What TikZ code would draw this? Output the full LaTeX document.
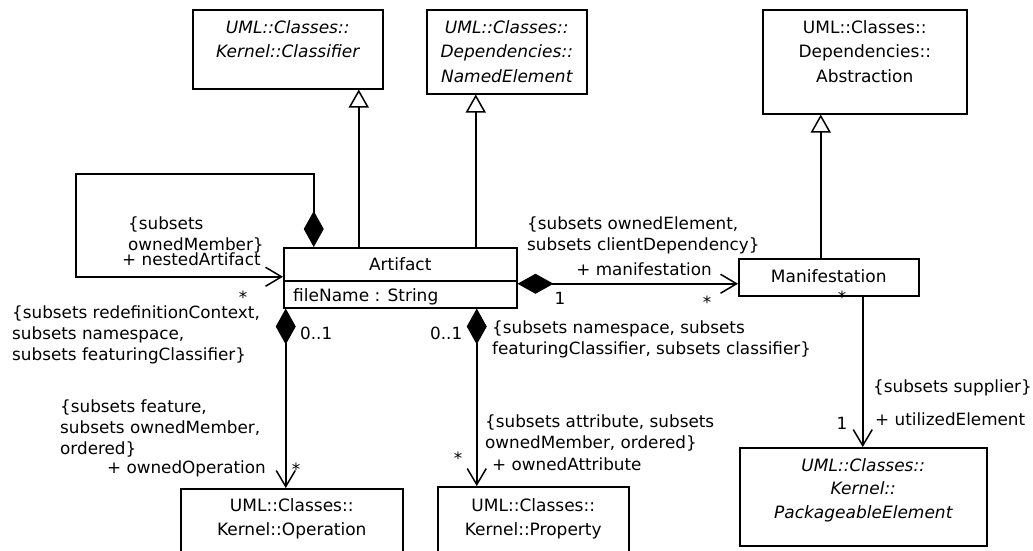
\documentclass[tikz,border=0pt]{standalone}
\usepackage{fontspec}
\setmainfont{DejaVu Sans}
\usetikzlibrary{arrows.meta}
\begin{document}
\begin{tikzpicture}[x=1pt,y=-1pt,
  lw/.style={line width=1.5pt},
  cbox/.style={draw, line width=1.5pt, anchor=north west, inner sep=0pt},
  cname/.style={anchor=base, inner sep=0pt, align=center, font=\fontsize{17}{24.5}\selectfont},
  cnamei/.style={anchor=base, inner sep=0pt, align=center, font=\fontsize{17}{24.5}\selectfont\itshape},
  lab/.style={anchor=base west, inner sep=0pt, align=left, font=\fontsize{16.8}{21}\selectfont},
  labr/.style={anchor=base east, inner sep=0pt, align=right, font=\fontsize{16.8}{21}\selectfont},
  mult/.style={anchor=base, inner sep=0pt, font=\fontsize{16.8}{21}\selectfont},
  gen/.style={line width=1.5pt, -{Triangle[open, length=18pt, width=20pt]}},
  comp/.style={line width=1.5pt, {Diamond[length=36pt, width=20pt]}-{Straight Barb[length=16pt, width=19pt]}},
  nav/.style={line width=1.5pt, -{Straight Barb[length=16pt, width=19pt]}},
]
\useasboundingbox (0,0) rectangle (1033,550);
\clip (0,0) rectangle (1033,550);

% class boxes (multi-line names are placed by the baseline of their last line)
\node[cbox, minimum width=190pt, minimum height=79pt] (cls) at (192,9) {};
\node[cnamei] (cls-t) at ([yshift=-48.5pt]cls.north) {UML::Classes::\\Kernel::Classifier};

\node[cbox, minimum width=160pt, minimum height=84pt] (ne) at (426,9) {};
\node[cnamei] (ne-t) at ([yshift=-73pt]ne.north) {UML::Classes::\\Dependencies::\\NamedElement};

\node[cbox, minimum width=204pt, minimum height=104pt] (abs) at (762,9) {};
\node[cname] (abs-t) at ([yshift=-73pt]abs.north) {UML::Classes::\\Dependencies::\\Abstraction};

\node[cbox, minimum width=233pt, minimum height=60pt] (art) at (283,247) {};
\draw[lw] ([yshift=-34pt]art.north west) -- ([yshift=-34pt]art.north east);
\node[mult, font=\fontsize{17}{21}\selectfont] (art-t) at ([yshift=-23pt]art.north) {Artifact};
\node[lab, font=\fontsize{17}{21}\selectfont] (art-a) at ([xshift=10pt, yshift=7pt]art.south west) {fileName : String};

\node[cbox, minimum width=180pt, minimum height=37pt] (man) at (738,258) {};
\node[mult, font=\fontsize{17}{21}\selectfont] (man-t) at ([yshift=-24pt]man.north) {Manifestation};

\node[cbox, minimum width=222pt, minimum height=80pt] (op) at (180,488) {};
\node[cname] (op-t) at ([yshift=-47.5pt]op.north) {UML::Classes::\\Kernel::Operation};

\node[cbox, minimum width=191pt, minimum height=80pt] (prop) at (437,486) {};
\node[cname] (prop-t) at ([yshift=-49.5pt]prop.north) {UML::Classes::\\Kernel::Property};

\node[cbox, minimum width=247pt, minimum height=98pt] (pe) at (739,447) {};
\node[cnamei, font=\fontsize{17}{23.5}\selectfont\itshape] (pe-t) at ([yshift=-71pt]pe.north) {UML::Classes::\\Kernel::\\PackageableElement};

% generalizations
\coordinate (g1) at ([xshift=-41.5pt]art.north);
\draw[gen] (g1) -- (g1 |- cls.south);
\coordinate (g2) at ([xshift=75.5pt]art.north);
\draw[gen] (g2) -- (g2 |- ne.south);
\coordinate (g3) at ([xshift=-8pt]man.north);
\draw[gen] (g3) -- (g3 |- abs.south);

% self composition
\coordinate (sl) at ([xshift=-86.5pt]art.north);
\draw[comp] (sl) -- ++(0,-73) -- ++(-238,0) |- ([yshift=1pt]art.west);

% compositions
\coordinate (cm) at ([yshift=-6pt]art.east);
\draw[comp] (cm) -- (cm -| man.west);
\coordinate (co) at ([xshift=-114.5pt]art.south);
\draw[comp] (co) -- (co |- op.north);
\coordinate (cp) at ([xshift=76.5pt]art.south);
\draw[comp] (cp) -- (cp |- prop.north);

% association to packageable element
\coordinate (mp) at ([xshift=34pt]man.south);
\draw[nav] (mp) -- (mp |- pe.north);

% labels (multi-line ones placed by the baseline of their last line)
\node[lab] (l-loop) at (128,250) {\{subsets\\ownedMember\}};
\node[lab] (l-nested) at (122,265) {+ nestedArtifact};
\node[mult] (m-loop) at (243,303) {*};
\node[lab] (l-redef) at (12,360) {\{subsets redefinitionContext,\\subsets namespace,\\subsets featuringClassifier\}};
\node[lab] (m-op1) at (300,339) {0..1};
\node[lab] (l-feat) at (60,454) {\{subsets feature,\\subsets ownedMember,\\ordered\}};
\node[labr] (l-oper) at (266,473) {+ ownedOperation};
\node[mult] (m-op2) at (296,475) {*};
\node[lab] (m-pr1) at (430,339) {0..1};
\node[lab] (l-ns) at (492,354) {\{subsets namespace, subsets\\featuringClassifier, subsets classifier\}};
\node[lab] (l-attr) at (485,448) {\{subsets attribute, subsets\\ownedMember, ordered\}};
\node[lab] (l-oattr) at (492,470) {+ ownedAttribute};
\node[mult] (m-pr2) at (458,464) {*};
\node[lab] (l-own) at (527,250) {\{subsets ownedElement,\\subsets clientDependency\}};
\node[labr] (l-manif) at (712,275) {+ manifestation};
\node[mult] (m-ma1) at (560,304) {1};
\node[mult] (m-ma2) at (707,308) {*};
\node[mult] (m-ma3) at (842,303) {*};
\node[lab] (l-sup) at (873,392) {\{subsets supplier\}};
\node[mult] (m-pe) at (842,429) {1};
\node[lab] (l-util) at (875,425) {+ utilizedElement};
\end{tikzpicture}
\end{document}
